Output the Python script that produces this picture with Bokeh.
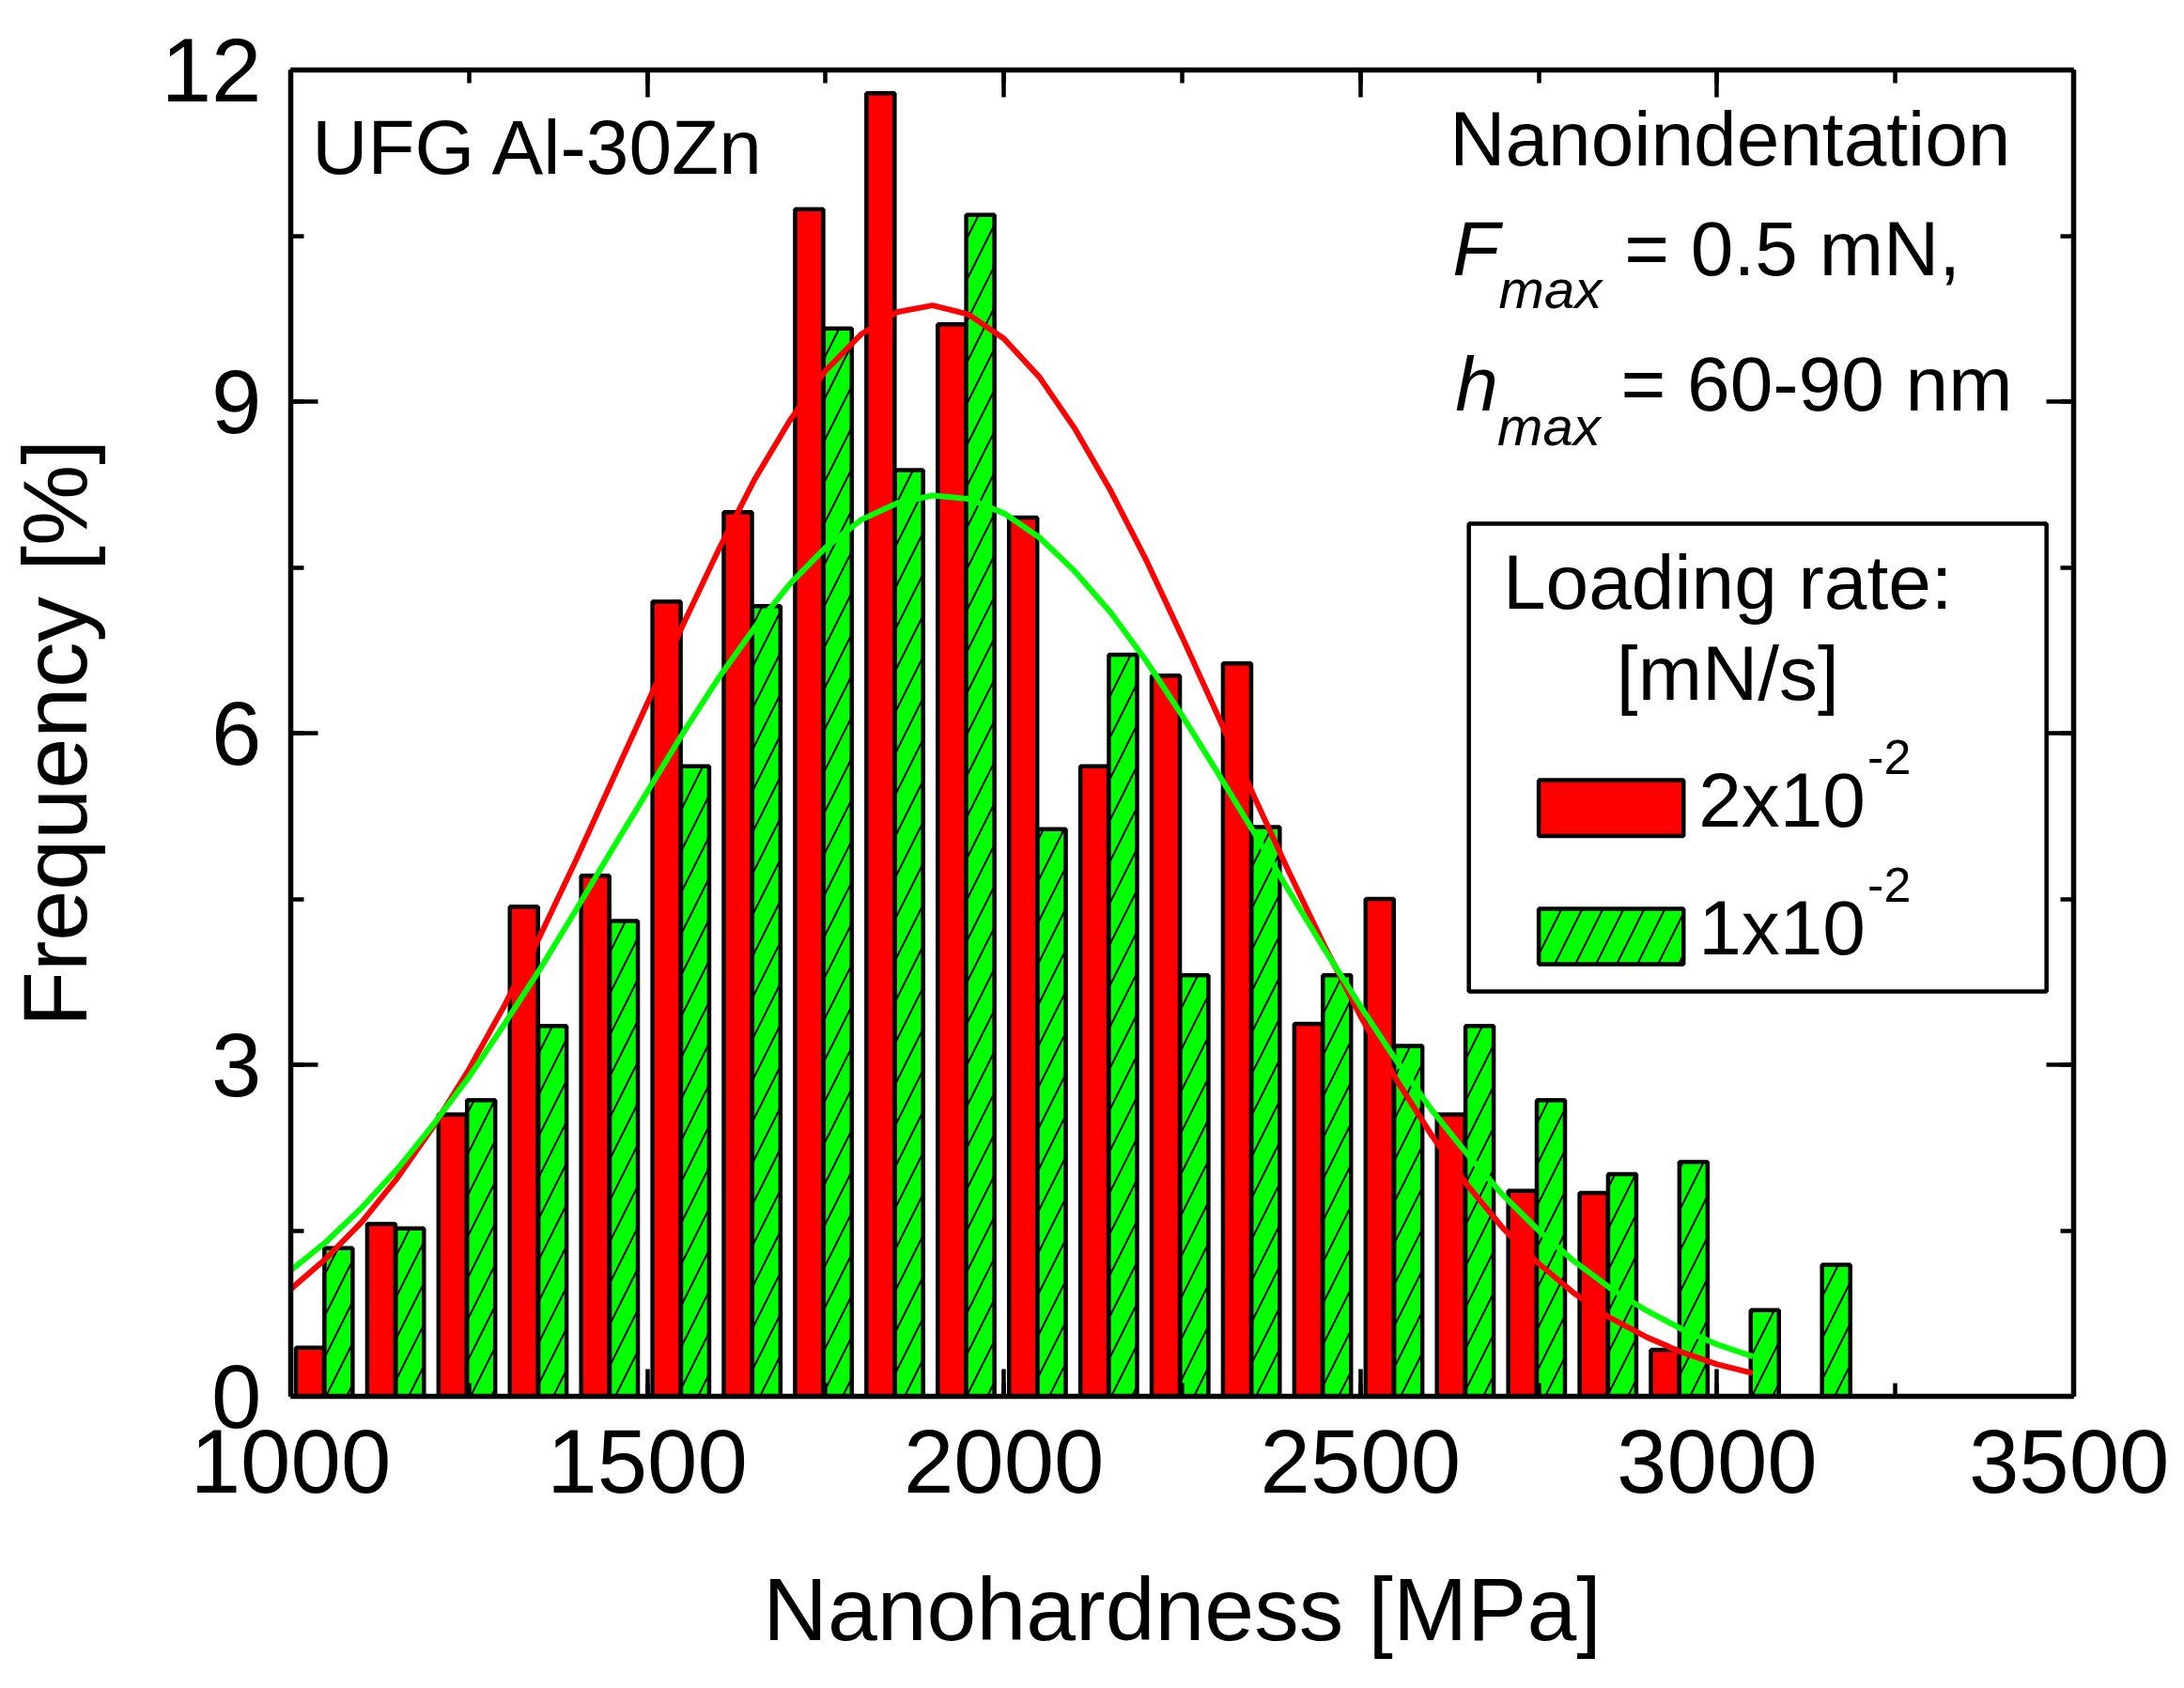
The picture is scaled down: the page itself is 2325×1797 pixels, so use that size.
from bokeh.plotting import figure
from bokeh.models import (Range1d, LinearAxis, SingleIntervalTicker, Label,
                          BoxAnnotation, CustomJSTickFormatter, ColumnDataSource)
from bokeh.transform import dodge
from bokeh.embed import file_html
from bokeh.resources import INLINE

# ---------------- data ----------------
bins = [1000, 1100, 1200, 1300, 1400, 1500, 1600, 1700, 1800, 1900, 2000,
        2100, 2200, 2300, 2400, 2500, 2600, 2700, 2800, 2900, 3000, 3100]
freq_2e2 = [0.44, 1.56, 2.55, 4.43, 4.71, 7.19, 8.00, 10.74, 11.79, 9.70,
            7.95, 5.70, 6.52, 6.63, 3.37, 4.50, 2.55, 1.86, 1.84, 0.42]
freq_1e2 = [1.34, 1.52, 2.68, 3.35, 4.30, 5.70, 7.15, 9.66, 8.38, 10.69,
            5.13, 6.71, 3.81, 5.15, 3.81, 3.17, 3.35, 2.68, 2.01, 2.12, 0.78, 1.19]
fit_x = [1000, 1050, 1100, 1150, 1200, 1250, 1300, 1350, 1400, 1450, 1500,
         1550, 1600, 1650, 1700, 1750, 1800, 1850, 1900, 1950, 2000, 2050,
         2100, 2150, 2200, 2250, 2300, 2350, 2400, 2450, 2500, 2550, 2600,
         2650, 2700, 2750, 2800, 2850, 2900, 2950, 3000, 3050]
fit_2e2 = [0.97, 1.25, 1.58, 1.98, 2.44, 2.96, 3.54, 4.17, 4.85, 5.56, 6.27,
           6.98, 7.66, 8.29, 8.83, 9.28, 9.61, 9.81, 9.87, 9.79, 9.57, 9.22,
           8.75, 8.19, 7.56, 6.87, 6.16, 5.44, 4.74, 4.07, 3.44, 2.87, 2.36,
           1.91, 1.52, 1.20, 0.93, 0.71, 0.54, 0.40, 0.29, 0.21]
fit_1e2 = [1.14, 1.40, 1.71, 2.06, 2.46, 2.89, 3.37, 3.87, 4.40, 4.94, 5.47,
           6.00, 6.50, 6.95, 7.35, 7.68, 7.93, 8.08, 8.15, 8.12, 7.99, 7.77,
           7.46, 7.09, 6.65, 6.16, 5.64, 5.11, 4.57, 4.04, 3.53, 3.04, 2.59,
           2.19, 1.82, 1.50, 1.22, 0.98, 0.78, 0.61, 0.47, 0.36]

FONT = "Liberation Sans"
RED = "#FF0000"
GREEN = "#00FF00"

p = figure(width=2309, height=1797, output_backend="svg", toolbar_location=None,
           x_range=Range1d(1000, 3500), y_range=Range1d(0, 12),
           min_border_left=300, min_border_right=102,
           min_border_top=74, min_border_bottom=311,
           x_axis_location=None, y_axis_location=None)
p.grid.visible = False
p.outline_line_color = None
p.background_fill_color = "white"
p.border_fill_color = "white"


def style_axis(ax, show_labels):
    ax.axis_line_width = 5.5
    ax.axis_line_color = "black"
    ax.major_tick_in = 29
    ax.major_tick_out = 0
    ax.minor_tick_in = 14
    ax.minor_tick_out = 0
    ax.major_tick_line_width = 4.5
    ax.minor_tick_line_width = 4.5
    ax.major_label_text_font = FONT
    ax.major_label_text_font_size = "96px"
    ax.major_label_text_color = "black"
    ax.axis_label_text_font = FONT
    ax.axis_label_text_font_style = "normal"
    ax.axis_label_text_color = "black"
    if not show_labels:
        ax.formatter = CustomJSTickFormatter(code="return '';")


xb = LinearAxis(ticker=SingleIntervalTicker(interval=500, num_minor_ticks=2))
style_axis(xb, True)
xb.major_label_standoff = 35
xb.axis_label = "Nanohardness [MPa]"
xb.axis_label_text_font_size = "95px"
xb.axis_label_standoff = 68
p.add_layout(xb, "below")
xt = LinearAxis(ticker=SingleIntervalTicker(interval=500, num_minor_ticks=2))
style_axis(xt, False)
xt.major_label_standoff = 0
p.add_layout(xt, "above")
yl = LinearAxis(ticker=SingleIntervalTicker(interval=3, num_minor_ticks=2))
style_axis(yl, True)
yl.major_label_standoff = 31
yl.axis_label = "Frequency [%]"
yl.axis_label_text_font_size = "97px"
yl.axis_label_standoff = 56
p.add_layout(yl, "left")
yr = LinearAxis(ticker=SingleIntervalTicker(interval=3, num_minor_ticks=2))
style_axis(yr, False)
yr.major_label_standoff = 0
p.add_layout(yr, "right")

src_r = ColumnDataSource(dict(bin=bins[:len(freq_2e2)], f=freq_2e2))
src_g = ColumnDataSource(dict(bin=bins[:len(freq_1e2)], f=freq_1e2))

p.vbar(x=dodge("bin", 27, range=p.x_range), top="f", bottom=0, width=39.5,
       source=src_r, fill_color=RED, line_color="black", line_width=4.5)
p.vbar(x=dodge("bin", 67, range=p.x_range), top="f", bottom=0, width=39.5,
       source=src_g, fill_color=GREEN, line_color="black", line_width=4.5,
       hatch_pattern="/", hatch_color="black", hatch_weight=2, hatch_scale=44)

p.line(fit_x, fit_2e2, line_color=RED, line_width=6)
p.line(fit_x, fit_1e2, line_color=GREEN, line_width=6)


def lab(x, y, text, size, style="normal", align="left"):
    px = float(size.replace("px", ""))
    dy = 0.27 * px / 117.67 + 0.085  # baseline correction
    p.add_layout(Label(x=x, y=y + dy, text=text, text_font=FONT, text_font_size=size,
                       text_font_style=style, text_align=align,
                       text_baseline="alphabetic", text_color="black"))


# annotations
lab(1030, 11.03, "UFG Al-30Zn", "82px")
lab(2625, 11.11, "Nanoindentation", "82px")
lab(2629, 10.11, "F", "82px", style="italic")
lab(2694, 9.80, "max", "58px", style="italic")
lab(2870, 10.11, "= 0.5 mN,", "82px")
lab(2633, 8.886, "h", "82px", style="italic")
lab(2692, 8.56, "max", "58px", style="italic")
lab(2865, 8.886, "= 60-90 nm", "82px")

# legend
p.add_layout(BoxAnnotation(left=2652, right=3462, top=7.895, bottom=3.663,
                           fill_color="white", fill_alpha=1.0,
                           line_color="black", line_alpha=1.0, line_width=4.5,
                           level="annotation"))
lab(3015, 7.099, "Loading rate:", "82px", align="center")
lab(3015, 6.272, "[mN/s]", "82px", align="center")
p.add_layout(BoxAnnotation(left=2750, right=2953, top=5.575, bottom=5.07,
                           fill_color=RED, fill_alpha=1.0,
                           line_color="black", line_alpha=1.0, line_width=4.5))
p.add_layout(BoxAnnotation(left=2750, right=2953, top=4.41, bottom=3.91,
                           fill_color=GREEN, fill_alpha=1.0,
                           line_color="black", line_alpha=1.0, line_width=4.5,
                           hatch_pattern="/", hatch_color="black",
                           hatch_weight=2, hatch_scale=44))
lab(2974, 5.124, "2x10", "82px")
lab(3211, 5.575, "-2", "52px")
lab(2974, 3.969, "1x10", "82px")
lab(3211, 4.419, "-2", "52px")

open("out.html", "w").write(file_html(p, INLINE))
